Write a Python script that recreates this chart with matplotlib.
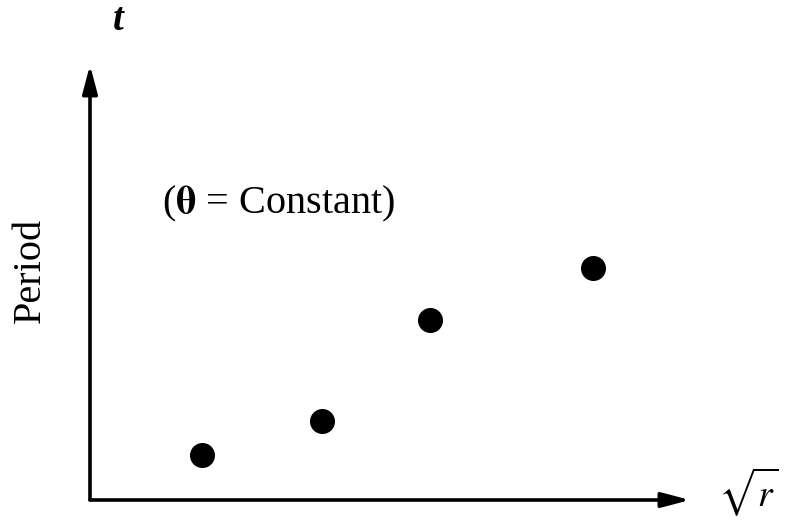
import matplotlib
matplotlib.use("Agg")
import matplotlib.pyplot as plt

# period measurements against square root of radius (arbitrary units)
sqrt_r = [1.87, 3.87, 5.67, 8.38]
period = [1.03, 1.82, 4.14, 5.33]

plt.rcParams['font.family'] = ['Liberation Serif', 'DejaVu Serif']
plt.rcParams['mathtext.fontset'] = 'stix'

fig = plt.figure(figsize=(7.86, 5.24), dpi=100)
ax = fig.add_axes([90 / 786, 24 / 524, 600 / 786, 435 / 524])
ax.set_xlim(0, 10)
ax.set_ylim(0, 10)
ax.axis('off')

# axes drawn as arrows
arrow = dict(arrowstyle='-|>,head_length=1.7,head_width=0.45', lw=2.6,
             color='black', shrinkA=0, shrinkB=0)
ax.annotate('', xy=(0, 1), xytext=(0, 0), xycoords='axes fraction',
            arrowprops=arrow, annotation_clip=False)
ax.annotate('', xy=(1, 0), xytext=(0, 0), xycoords='axes fraction',
            arrowprops=arrow, annotation_clip=False)

ax.plot(sqrt_r, period, 'o', color='black', markersize=17, clip_on=False)

ax.text(0.12, 0.68, r'($\mathbf{\theta}$ = Constant)', transform=ax.transAxes,
        fontsize=29, va='center', ha='left')
fig.text(30 / 786, 1 - 270 / 524, 'Period', rotation=90, fontsize=29,
         va='center', ha='center')
fig.text(118 / 786, 1 - 20 / 524, 't', fontsize=28, style='italic',
         fontweight='bold', va='center', ha='center')
fig.text(748 / 786, 1 - 492 / 524, r'$\sqrt{\mathbf{\mathit{r}}}$', fontsize=27,
         va='center', ha='center')

fig.savefig('out.png', dpi=100, facecolor='white')
